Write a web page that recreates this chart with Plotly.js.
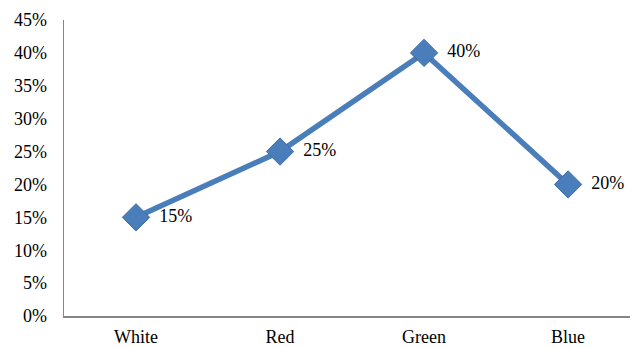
<!DOCTYPE html>
<html><head><meta charset="utf-8">
<script src="https://cdn.plot.ly/plotly-3.0.1.min.js"></script>
<style>html,body{margin:0;padding:0;background:#fff}#chart{width:630px;height:347px}</style>
</head><body><div id="chart"></div>
<script>
const categories = ["White", "Red", "Green", "Blue"];
const values = [0.15, 0.25, 0.40, 0.20];
const labels = values.map(v => "  " + Math.round(v * 100) + "%");

const trace = {
  x: categories, y: values, text: labels,
  type: "scatter", mode: "lines+markers+text",
  textposition: "middle right",
  textfont: {family: "Liberation Serif, Times New Roman, serif", size: 18, color: "#000"},
  line: {color: "#4a7ebb", width: 5.5},
  marker: {symbol: "diamond", size: 21, color: "#4a7ebb", line: {color: "#3d6ca8", width: 1}},
  cliponaxis: false, hoverinfo: "none"
};

const layout = {
  width: 630, height: 347,
  margin: {l: 64, r: 0, t: 20, b: 31},
  paper_bgcolor: "#fff", plot_bgcolor: "#fff",
  showlegend: false,
  font: {family: "Liberation Serif, Times New Roman, serif", size: 18, color: "#000"},
  xaxis: {type: "category", range: [-0.5, 3.43], showline: true, linecolor: "#868686", linewidth: 1.5,
          showgrid: false, zeroline: false, ticks: "", tickfont: {size: 18}, ticklabelstandoff: 4},
  yaxis: {range: [0, 0.45], dtick: 0.05, tickformat: ".0%", showline: true, linecolor: "#868686", linewidth: 1.5,
          showgrid: false, zeroline: false, ticks: "", tickfont: {size: 18}, ticklabelstandoff: 12}
};
Plotly.newPlot("chart", [trace], layout, {displayModeBar: false, staticPlot: true});
</script></body></html>
